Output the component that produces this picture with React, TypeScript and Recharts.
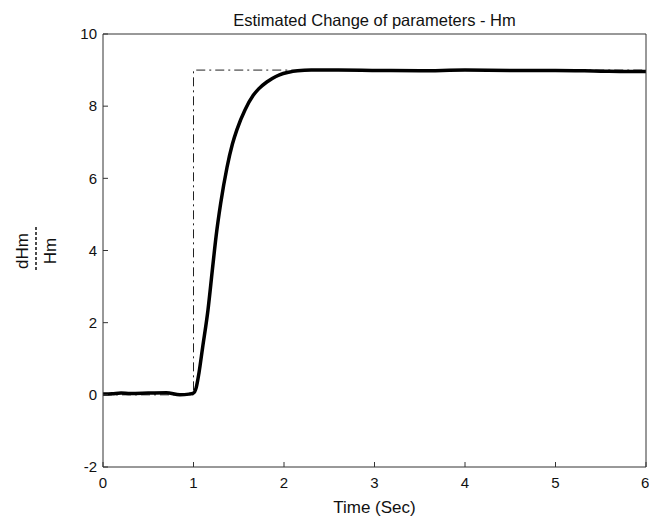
import React from "react";
import { LineChart, Line, XAxis, YAxis, Label } from "recharts";

// estimated parameter change (solid thick line)
const estT = [0, 0.1, 0.2, 0.3, 0.5, 0.7, 0.85, 0.95, 1.0, 1.03, 1.06, 1.1, 1.16, 1.21, 1.25, 1.3, 1.37, 1.43, 1.48, 1.57, 1.66, 1.72, 1.81, 1.87, 1.95, 2.05, 2.15, 2.3, 2.6, 3, 3.5, 4, 4.5, 5, 5.5, 5.8, 6];
const estV = [0.02, 0.03, 0.05, 0.04, 0.05, 0.06, 0.0, 0.02, 0.05, 0.2, 0.6, 1.3, 2.35, 3.5, 4.4, 5.3, 6.3, 6.95, 7.35, 7.9, 8.3, 8.48, 8.67, 8.77, 8.87, 8.94, 8.98, 9.0, 9.0, 8.99, 8.98, 9.0, 8.99, 8.99, 8.97, 8.96, 8.96];

// actual step change (dash-dot)
const refT = [0, 1, 1, 6];
const refV = [0, 0, 9, 9];

const xTicks = [0, 1, 2, 3, 4, 5, 6];
const yTicks = [-2, 0, 2, 4, 6, 8, 10];

const TITLE = "Estimated Change of parameters - Hm";
const XLABEL = "Time (Sec)";

const estData = estT.map((t, i) => ({ t, v: estV[i] }));
const refData = refT.map((t, i) => ({ t, v: refV[i] }));

const FONT = "'Liberation Sans', Arial, sans-serif";
const AXIS = "#333";

// stacked "dHm / Hm" label on the left
const YFraction = () => (
  <g fontFamily={FONT} fontSize={17} fill="#111">
    <text x={28} y={251} textAnchor="middle" transform="rotate(-90 28 251)">dHm</text>
    <line x1={36} y1={227} x2={36} y2={272} stroke="#111" strokeWidth={1.5} strokeDasharray="3 2" />
    <text x={56} y={251} textAnchor="middle" transform="rotate(-90 56 251)">Hm</text>
  </g>
);

export default function App() {
  const tickStyle = { fontSize: 15, fill: "#111", fontFamily: FONT };
  return (
    <div style={{ width: 649, height: 523, background: "#fff" }}>
      <style>{`body{margin:0}`}</style>
      <LineChart width={649} height={523} margin={{ top: 33, right: 2, bottom: 0, left: 0 }}>
        <XAxis
          xAxisId="b"
          dataKey="t"
          type="number"
          domain={[0, 6]}
          ticks={xTicks}
          allowDataOverflow
          height={56}
          stroke={AXIS}
          tickSize={-5}
          tickMargin={15}
          tick={tickStyle}
        >
          <Label value={XLABEL} position="insideBottom" offset={10} style={{ fontSize: 17, fill: "#111", fontFamily: FONT }} />
        </XAxis>
        <XAxis
          xAxisId="top"
          orientation="top"
          dataKey="t"
          type="number"
          domain={[0, 6]}
          ticks={xTicks}
          allowDataOverflow
          height={1}
          stroke={AXIS}
          tickSize={-5}
          tick={false}
        >
          <Label value={TITLE} position="top" offset={7} style={{ fontSize: 16.5, fill: "#111", fontFamily: FONT }} />
        </XAxis>
        <YAxis
          yAxisId="l"
          type="number"
          domain={[-2, 10]}
          ticks={yTicks}
          allowDataOverflow
          width={103}
          stroke={AXIS}
          tickSize={-5}
          tickMargin={11}
          tick={tickStyle}
        >
          <Label content={() => <YFraction />} />
        </YAxis>
        <YAxis
          yAxisId="r"
          orientation="right"
          type="number"
          domain={[-2, 10]}
          ticks={yTicks}
          allowDataOverflow
          width={1}
          stroke={AXIS}
          tickSize={-5}
          tick={false}
        />
        {/* invisible series so the top/right box axes get drawn */}
        <Line
          xAxisId="top"
          yAxisId="r"
          data={refData}
          dataKey="v"
          stroke="none"
          dot={false}
          activeDot={false}
          isAnimationActive={false}
        />
        <Line
          xAxisId="b"
          yAxisId="l"
          data={refData}
          dataKey="v"
          type="linear"
          stroke="#222"
          strokeWidth={1}
          strokeDasharray="9 4 2 4"
          dot={false}
          isAnimationActive={false}
        />
        <Line
          xAxisId="b"
          yAxisId="l"
          data={estData}
          dataKey="v"
          type="monotone"
          stroke="#000"
          strokeWidth={3.5}
          dot={false}
          isAnimationActive={false}
        />
      </LineChart>
    </div>
  );
}
